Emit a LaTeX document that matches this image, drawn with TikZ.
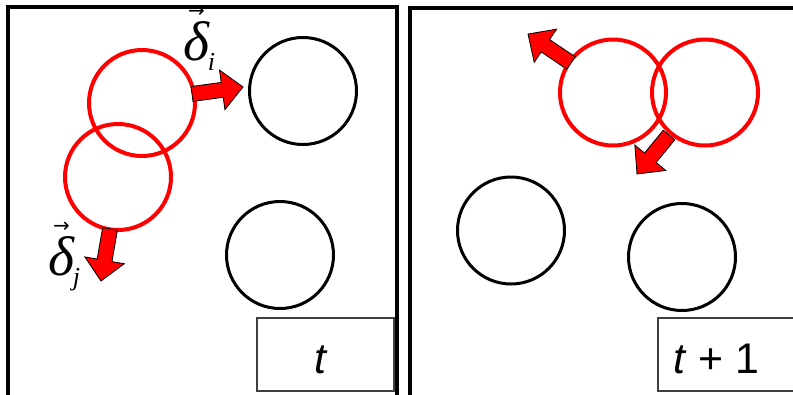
\documentclass[tikz,border=0pt]{standalone}
\usepackage{fontspec}
\setmainfont{Liberation Serif}
\newfontfamily\arialfont{Liberation Sans}
\newfontfamily\symfont{DejaVu Sans}
\usetikzlibrary{calc}
\newcommand\vd[1]{\leavevmode\rlap{\raisebox{43bp}{\kern5bp\symfont\fontsize{20}{20}\selectfont →}}\textit{δ}\kern-2bp\raisebox{-10bp}{\fontsize{26}{26}\selectfont\textit{#1}}}
\begin{document}
\begin{tikzpicture}[x=1bp,y=-1bp,
  frame/.style={draw=black,line width=3.5bp},
  redc/.style={circle,draw=red,line width=4bp,minimum size=106bp,inner sep=0pt},
  blackc/.style={circle,draw=black,line width=3bp,minimum size=107bp,inner sep=0pt},
  labelbox/.style={draw=black!75,line width=1.5bp,inner sep=0pt},
  barrow/.style={fill=red,draw=black,line width=0.8bp,line join=miter},
  lab/.style={font=\fontsize{56}{60}\selectfont,inner sep=0pt},
  tlab/.style={font=\arialfont\fontsize{43}{46}\selectfont,inner sep=0pt}]
\clip (0,0) rectangle (793,394);
\fill[white] (0,0) rectangle (793,394);
% frames
\draw[frame] (8,7) rectangle (397,400);
\draw[frame] (410,8) rectangle (800,400);
% left panel
\node[redc] (r1) at (142,103) {};
\node[redc] (r2) at (118,177) {};
\node[blackc] (b1) at (303,91) {};
\node[blackc] (b2) at (280,255) {};
% right panel
\node[redc] (r3) at (613,92.5) {};
\node[redc] (r4) at (705,92.5) {};
\node[blackc] (b3) at (511,230.5) {};
\node[blackc] (b4) at (682,257) {};
% arrows
\coordinate (ai0) at (192,94); \coordinate (ai1) at (243,87);
\coordinate (aj0) at (110,229); \coordinate (aj1) at (101,281);
\coordinate (ak0) at (571,63); \coordinate (ak1) at (528,34);
\coordinate (al0) at (669,135); \coordinate (al1) at (637,174);
\foreach \s/\e in {ai0/ai1,aj0/aj1,ak0/ak1,al0/al1}{
  \path ($(\e)!21bp!(\s)$) coordinate (h);
  \filldraw[barrow] ($(\s)!7.5bp!90:(\e)$) -- ($(h)!7.5bp!-90:(\s)$) -- ($(h)!20bp!-90:(\s)$) -- (\e)
    -- ($(h)!20bp!90:(\s)$) -- ($(h)!7.5bp!90:(\s)$) -- ($(\s)!7.5bp!-90:(\e)$) -- cycle;
}
% labels
\node[lab,anchor=base west] (di) at (183,60) {\vd{i}};
\node[lab,anchor=base west] (dj) at (48,275) {\vd{j}};
% time boxes
\node[labelbox,anchor=north west,minimum width=137bp,minimum height=73bp] (tb1) at (256,317) {};
\node[tlab,anchor=base] (tt1) at (320,373) {\itshape t};
\node[labelbox,anchor=north west,minimum width=145bp,minimum height=73bp] (tb2) at (657,317) {};
\node[tlab,anchor=base west] (tt2) at (673,373) {\textit{t} + 1};
\end{tikzpicture}
\end{document}
